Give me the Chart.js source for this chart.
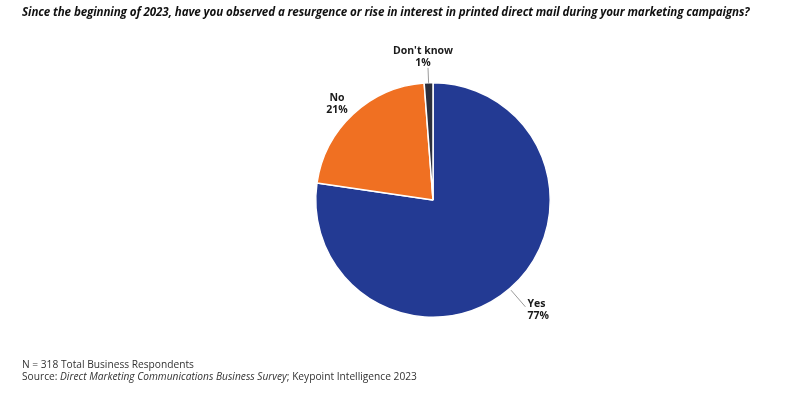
<!DOCTYPE html>
<html lang="en">
<head>
    <meta charset="UTF-8">
    <title>Printed direct mail interest</title>
    <script src="https://cdn.jsdelivr.net/npm/chart.js"></script>
    <style>
        html, body { margin: 0; padding: 0; background: #fff; }
        #wrap { position: relative; width: 791px; height: 393px; overflow: hidden; }
        #title {
            position: absolute; left: 22px; top: 4px;
            font-family: "Open Sans", sans-serif; font-weight: 700; font-style: italic;
            font-size: 11.6px; color: #111; white-space: nowrap; letter-spacing: -0.1px;
        }
        #note {
            position: absolute; left: 22px; top: 358px;
            font-family: "Open Sans", sans-serif; font-size: 10.2px; line-height: 12px; color: #333;
            white-space: nowrap;
        }
        canvas { position: absolute; left: 0; top: 0; }
    </style>
</head>
<body>
<div id="wrap">
    <canvas id="mailChart" width="791" height="393"></canvas>
    <div id="title">Since the beginning of 2023, have you observed a resurgence or rise in interest in printed direct mail during your marketing campaigns?</div>
    <div id="note">N = 318 Total Business Respondents<br>Source: <i>Direct Marketing Communications Business Survey</i>; Keypoint Intelligence 2023</div>
</div>
<script>
    // 資料
    const answers = ['Yes', 'No', "Don't know"];
    const shares = [77.3, 21.5, 1.2];          // 依圖上扇形角度估計
    const shownPct = ['77%', '21%', '1%'];     // 圖上標示的百分比
    const sliceColors = ['#233a93', '#f07022', '#2b2f3d'];

    // 扇形外的標籤(含引線)
    const sliceLabels = {
        id: 'sliceLabels',
        afterDatasetsDraw(chart) {
            const ctx = chart.ctx;
            const arcs = chart.getDatasetMeta(0).data;
            // 每個扇形的標籤擺法
            const place = [
                { from: 2, to: 24, dx: 2, dy: 3, align: 'left', leader: true },
                { from: 0, to: 19, dx: -3, dy: 4, align: 'center', leader: false },
                { from: 0, to: 15, dx: -5, dy: -11, align: 'center', leader: true }
            ];
            ctx.save();
            arcs.forEach((arc, i) => {
                const p = place[i];
                const mid = (arc.startAngle + arc.endAngle) / 2;
                const r0 = arc.outerRadius + p.from;
                const r1 = arc.outerRadius + p.to;
                const x0 = arc.x + Math.cos(mid) * r0, y0 = arc.y + Math.sin(mid) * r0;
                const x1 = arc.x + Math.cos(mid) * r1, y1 = arc.y + Math.sin(mid) * r1;
                if (p.leader) {
                    ctx.strokeStyle = '#9a9a9a';
                    ctx.lineWidth = 1;
                    ctx.beginPath();
                    ctx.moveTo(x0, y0);
                    ctx.lineTo(x1, y1);
                    ctx.stroke();
                }
                ctx.fillStyle = '#1a1a1a';
                ctx.font = 'bold 10.5px "Open Sans", sans-serif';
                ctx.textAlign = p.align;
                ctx.textBaseline = 'middle';
                const tx = x1 + p.dx, ty = y1 + p.dy;
                ctx.fillText(answers[i], tx, ty - 6);
                ctx.fillText(shownPct[i], tx, ty + 6);
            });
            ctx.restore();
        }
    };

    new Chart(document.getElementById('mailChart').getContext('2d'), {
        type: 'pie',
        data: {
            labels: answers,
            datasets: [{
                data: shares,
                backgroundColor: sliceColors,
                borderColor: '#ffffff',
                borderWidth: 1.5
            }]
        },
        options: {
            responsive: false,
            animation: false,
            layout: { padding: { left: 315, right: 240, top: 82, bottom: 75 } },
            plugins: {
                legend: { display: false },
                tooltip: { enabled: false }
            }
        },
        plugins: [sliceLabels]
    });
</script>
</body>
</html>
